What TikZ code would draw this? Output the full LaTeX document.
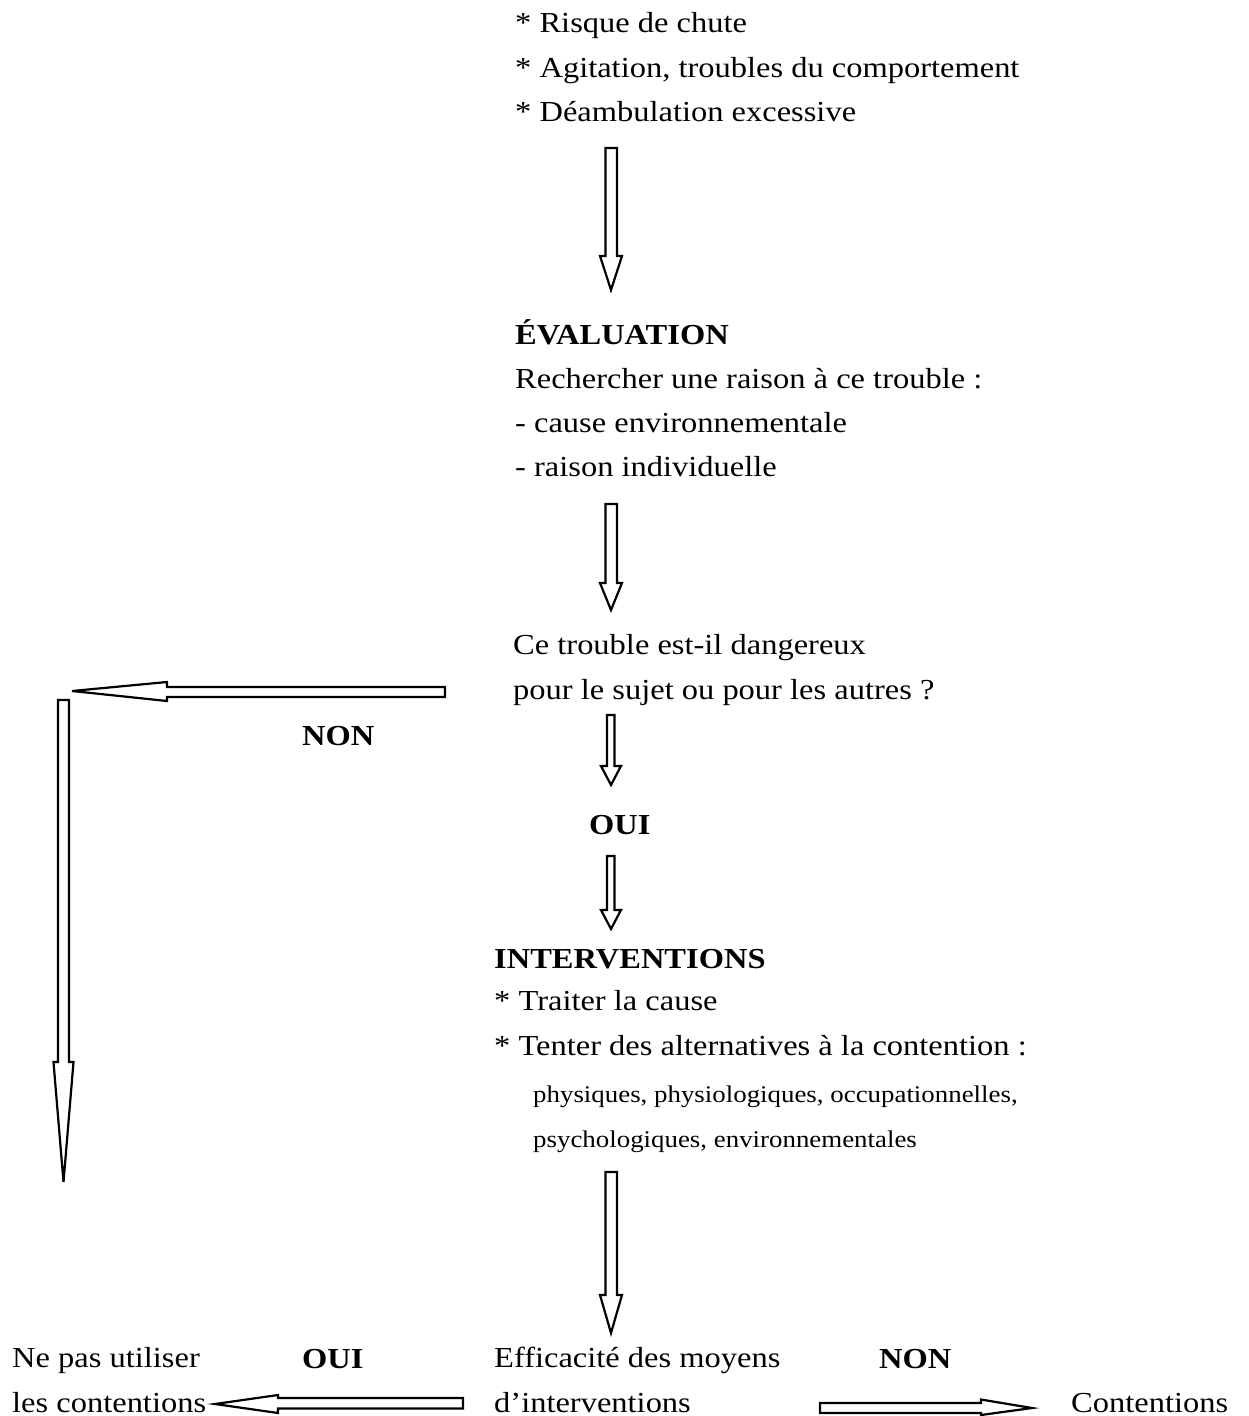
\documentclass[tikz,border=0pt]{standalone}
\usepackage{fontspec}
\setmainfont[FakeStretch=1.12]{Liberation Serif}
\begin{document}
\begin{tikzpicture}[x=1pt,y=-1pt,
  txt/.style={anchor=base west,inner sep=0pt,font=\fontsize{29}{34}\selectfont},
  hd/.style={anchor=base west,inner sep=0pt,font=\fontsize{29}{34}\selectfont\bfseries},
  sm/.style={anchor=base west,inner sep=0pt,font=\fontsize{24}{28}\selectfont},
  blk/.style={draw=black,line width=2.2pt,fill=white,line join=miter}]
\useasboundingbox (0,0) rectangle (1248,1416);

% top list
\node[txt] (t1) at (515,32) {* Risque de chute};
\node[txt] (t2) at (515,77) {* Agitation, troubles du comportement};
\node[txt] (t3) at (515,121) {* Déambulation excessive};

% arrow 1
\draw[blk] (605.5,148) -- (617,148) -- (617,256) -- (622,256) -- (611,290) -- (600,256) -- (605.5,256) -- cycle;

\node[hd] (ev) at (515,344) {ÉVALUATION};
\node[txt] (e1) at (515,388) {Rechercher une raison à ce trouble :};
\node[txt] (e2) at (515,432) {- cause environnementale};
\node[txt] (e3) at (515,476) {- raison individuelle};

% arrow 2
\draw[blk] (605.5,504) -- (617,504) -- (617,583) -- (622,583) -- (611,610) -- (600,583) -- (605.5,583) -- cycle;

\node[txt] (q1) at (513,654) {Ce trouble est-il dangereux};
\node[txt] (q2) at (513,699) {pour le sujet ou pour les autres ?};

% left NON arrow
\draw[blk] (445,687) -- (445,697) -- (167,697) -- (167,701) -- (72,691) -- (167,682) -- (167,687) -- cycle;
\node[hd] (non1) at (302,745) {NON};
\draw[blk] (58,700) -- (69,700) -- (69,1062) -- (73.5,1062) -- (63.5,1182) -- (53.5,1062) -- (58,1062) -- cycle;

% arrow 3
\draw[blk] (607,715) -- (614.5,715) -- (614.5,766) -- (621,766) -- (611,785) -- (601,766) -- (607,766) -- cycle;
\node[hd] (oui1) at (589,834) {OUI};
% arrow 4
\draw[blk] (607,856) -- (614.5,856) -- (614.5,910) -- (621,910) -- (611,929) -- (601,910) -- (607,910) -- cycle;

\node[hd] (iv) at (494,968) {INTERVENTIONS};
\node[txt] (i1) at (494,1010) {* Traiter la cause};
\node[txt] (i2) at (494,1055) {* Tenter des alternatives à la contention :};
\node[sm] (i3) at (533,1102) {physiques, physiologiques, occupationnelles,};
\node[sm] (i4) at (533,1147) {psychologiques, environnementales};

% arrow 5
\draw[blk] (605.5,1172) -- (617,1172) -- (617,1295) -- (622,1295) -- (611,1333) -- (600,1295) -- (605.5,1295) -- cycle;

\node[txt] (b1) at (12,1367) {Ne pas utiliser};
\node[txt] (b2) at (12,1412) {les contentions};
\node[hd] (oui2) at (302,1368) {OUI};
\node[txt] (c1) at (494,1367) {Efficacité des moyens};
\node[txt] (c2) at (494,1412) {d’interventions};
\node[hd] (non2) at (879,1368) {NON};
\node[txt] (k) at (1071,1412) {Contentions};

% bottom arrows
\draw[blk] (463,1398) -- (463,1408.5) -- (278,1408.5) -- (278,1413) -- (215,1404) -- (278,1395) -- (278,1398) -- cycle;
\draw[blk] (820,1403) -- (981,1403) -- (981,1399.5) -- (1032,1408) -- (981,1415) -- (981,1413) -- (820,1413) -- cycle;
\end{tikzpicture}
\end{document}
